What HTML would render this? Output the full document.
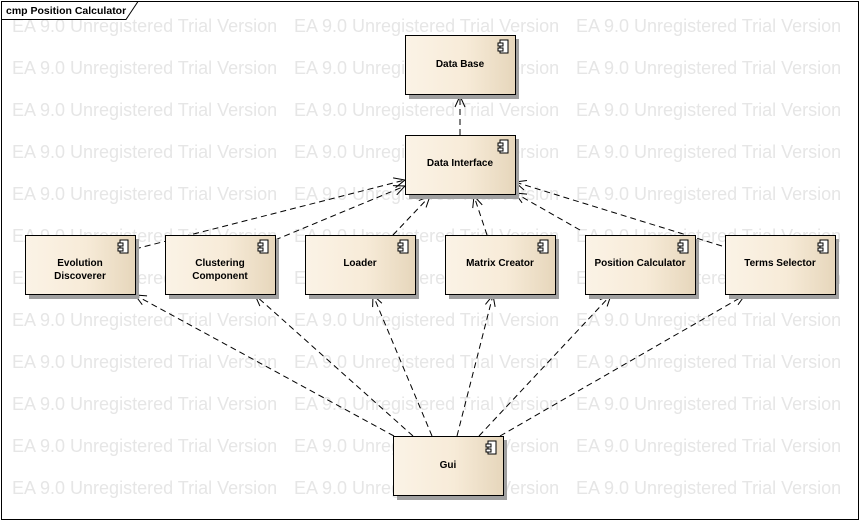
<!DOCTYPE html>
<html><head><meta charset="utf-8"><style>
html,body{margin:0;padding:0;background:#fff;}
svg{display:block;}
.wm{font-family:"Liberation Sans",sans-serif;font-size:18px;fill:#e6e6e6;}
.lb{font-family:"Liberation Sans",sans-serif;font-size:10px;font-weight:bold;fill:#000;text-anchor:middle;}
.ln{stroke:#000;stroke-width:1;stroke-dasharray:6,4;fill:none;}
</style></head><body>
<svg width="860" height="521" viewBox="0 0 860 521" xmlns="http://www.w3.org/2000/svg">
<defs>
<linearGradient id="g" x1="0" x2="1" y1="0" y2="0">
<stop offset="0" stop-color="#fbf3e6"/><stop offset="0.55" stop-color="#f7ebd8"/><stop offset="1" stop-color="#e6d6bb"/>
</linearGradient>
<marker id="a" markerWidth="14" markerHeight="14" refX="12" refY="7" orient="auto" markerUnits="userSpaceOnUse">
<polyline points="1,2 12,7 1,12" fill="none" stroke="#000" stroke-width="1"/>
</marker>
<g id="ic"><rect x="2" y="0" width="8" height="13" fill="#fff" stroke="#000"/><rect x="0" y="3" width="5" height="3" fill="#fff" stroke="#000"/><rect x="0" y="8" width="5" height="3" fill="#fff" stroke="#000"/></g>
</defs>
<g class="wm">
<text x="12" y="32">EA 9.0 Unregistered Trial Version</text><text x="294" y="32">EA 9.0 Unregistered Trial Version</text><text x="576" y="32">EA 9.0 Unregistered Trial Version</text>
<text x="12" y="74">EA 9.0 Unregistered Trial Version</text><text x="294" y="74">EA 9.0 Unregistered Trial Version</text><text x="576" y="74">EA 9.0 Unregistered Trial Version</text>
<text x="12" y="116">EA 9.0 Unregistered Trial Version</text><text x="294" y="116">EA 9.0 Unregistered Trial Version</text><text x="576" y="116">EA 9.0 Unregistered Trial Version</text>
<text x="12" y="158">EA 9.0 Unregistered Trial Version</text><text x="294" y="158">EA 9.0 Unregistered Trial Version</text><text x="576" y="158">EA 9.0 Unregistered Trial Version</text>
<text x="12" y="200">EA 9.0 Unregistered Trial Version</text><text x="294" y="200">EA 9.0 Unregistered Trial Version</text><text x="576" y="200">EA 9.0 Unregistered Trial Version</text>
<text x="12" y="242">EA 9.0 Unregistered Trial Version</text><text x="294" y="242">EA 9.0 Unregistered Trial Version</text><text x="576" y="242">EA 9.0 Unregistered Trial Version</text>
<text x="12" y="284">EA 9.0 Unregistered Trial Version</text><text x="294" y="284">EA 9.0 Unregistered Trial Version</text><text x="576" y="284">EA 9.0 Unregistered Trial Version</text>
<text x="12" y="326">EA 9.0 Unregistered Trial Version</text><text x="294" y="326">EA 9.0 Unregistered Trial Version</text><text x="576" y="326">EA 9.0 Unregistered Trial Version</text>
<text x="12" y="368">EA 9.0 Unregistered Trial Version</text><text x="294" y="368">EA 9.0 Unregistered Trial Version</text><text x="576" y="368">EA 9.0 Unregistered Trial Version</text>
<text x="12" y="410">EA 9.0 Unregistered Trial Version</text><text x="294" y="410">EA 9.0 Unregistered Trial Version</text><text x="576" y="410">EA 9.0 Unregistered Trial Version</text>
<text x="12" y="452">EA 9.0 Unregistered Trial Version</text><text x="294" y="452">EA 9.0 Unregistered Trial Version</text><text x="576" y="452">EA 9.0 Unregistered Trial Version</text>
<text x="12" y="494">EA 9.0 Unregistered Trial Version</text><text x="294" y="494">EA 9.0 Unregistered Trial Version</text><text x="576" y="494">EA 9.0 Unregistered Trial Version</text>
</g>
<rect x="1.5" y="1.5" width="857" height="518" fill="none" stroke="#000"/>
<path d="M1.5 19.5 H126 L138 1.5" fill="none" stroke="#000"/>
<text x="6" y="14" style="font-family:'Liberation Sans',sans-serif;font-size:10.5px;font-weight:bold">cmp Position Calculator</text>

<g>
<line class="ln" x1="460" y1="135" x2="460" y2="96" marker-end="url(#a)"/>
<line class="ln" x1="135" y1="249" x2="405" y2="180" marker-end="url(#a)"/>
<line class="ln" x1="275" y1="240" x2="405" y2="186" marker-end="url(#a)"/>
<line class="ln" x1="393" y1="235" x2="430" y2="196" marker-end="url(#a)"/>
<line class="ln" x1="487" y1="235" x2="474" y2="196" marker-end="url(#a)"/>
<line class="ln" x1="580" y1="230" x2="515" y2="193" marker-end="url(#a)"/>
<line class="ln" x1="722" y1="246" x2="515" y2="182" marker-end="url(#a)"/>
<line class="ln" x1="394" y1="436" x2="135" y2="295" marker-end="url(#a)"/>
<line class="ln" x1="413" y1="436" x2="255" y2="295" marker-end="url(#a)"/>
<line class="ln" x1="432" y1="436" x2="373" y2="295" marker-end="url(#a)"/>
<line class="ln" x1="457" y1="436" x2="493" y2="295" marker-end="url(#a)"/>
<line class="ln" x1="479" y1="436" x2="611" y2="295" marker-end="url(#a)"/>
<line class="ln" x1="500" y1="436" x2="745" y2="295" marker-end="url(#a)"/>
</g>

<g id="boxes">
<g transform="translate(405,35)"><rect x="4" y="4" width="110" height="60" fill="#a0a0a0"/><rect x="0.5" y="0.5" width="110" height="59" fill="url(#g)" stroke="#000"/><use href="#ic" x="93" y="5"/><text class="lb" x="55" y="32">Data Base</text></g>
<g transform="translate(405,135)"><rect x="4" y="4" width="110" height="60" fill="#a0a0a0"/><rect x="0.5" y="0.5" width="110" height="59" fill="url(#g)" stroke="#000"/><use href="#ic" x="93" y="5"/><text class="lb" x="55" y="31">Data Interface</text></g>
<g transform="translate(25,235)"><rect x="4" y="4" width="110" height="60" fill="#a0a0a0"/><rect x="0.5" y="0.5" width="110" height="59" fill="url(#g)" stroke="#000"/><use href="#ic" x="93" y="5"/><text class="lb" x="55" y="31">Evolution</text><text class="lb" x="55" y="44">Discoverer</text></g>
<g transform="translate(165,235)"><rect x="4" y="4" width="110" height="60" fill="#a0a0a0"/><rect x="0.5" y="0.5" width="110" height="59" fill="url(#g)" stroke="#000"/><use href="#ic" x="93" y="5"/><text class="lb" x="55" y="31">Clustering</text><text class="lb" x="55" y="44">Component</text></g>
<g transform="translate(305,235)"><rect x="4" y="4" width="110" height="60" fill="#a0a0a0"/><rect x="0.5" y="0.5" width="110" height="59" fill="url(#g)" stroke="#000"/><use href="#ic" x="93" y="5"/><text class="lb" x="55" y="31">Loader</text></g>
<g transform="translate(445,235)"><rect x="4" y="4" width="110" height="60" fill="#a0a0a0"/><rect x="0.5" y="0.5" width="110" height="59" fill="url(#g)" stroke="#000"/><use href="#ic" x="93" y="5"/><text class="lb" x="55" y="31">Matrix Creator</text></g>
<g transform="translate(585,235)"><rect x="4" y="4" width="110" height="60" fill="#a0a0a0"/><rect x="0.5" y="0.5" width="110" height="59" fill="url(#g)" stroke="#000"/><use href="#ic" x="93" y="5"/><text class="lb" x="55" y="31">Position Calculator</text></g>
<g transform="translate(725,235)"><rect x="4" y="4" width="110" height="60" fill="#a0a0a0"/><rect x="0.5" y="0.5" width="110" height="59" fill="url(#g)" stroke="#000"/><use href="#ic" x="93" y="5"/><text class="lb" x="55" y="31">Terms Selector</text></g>
<g transform="translate(393,436)"><rect x="4" y="4" width="110" height="60" fill="#a0a0a0"/><rect x="0.5" y="0.5" width="110" height="59" fill="url(#g)" stroke="#000"/><use href="#ic" x="93" y="5"/><text class="lb" x="55" y="32">Gui</text></g>
</g>
</svg>
</body></html>
